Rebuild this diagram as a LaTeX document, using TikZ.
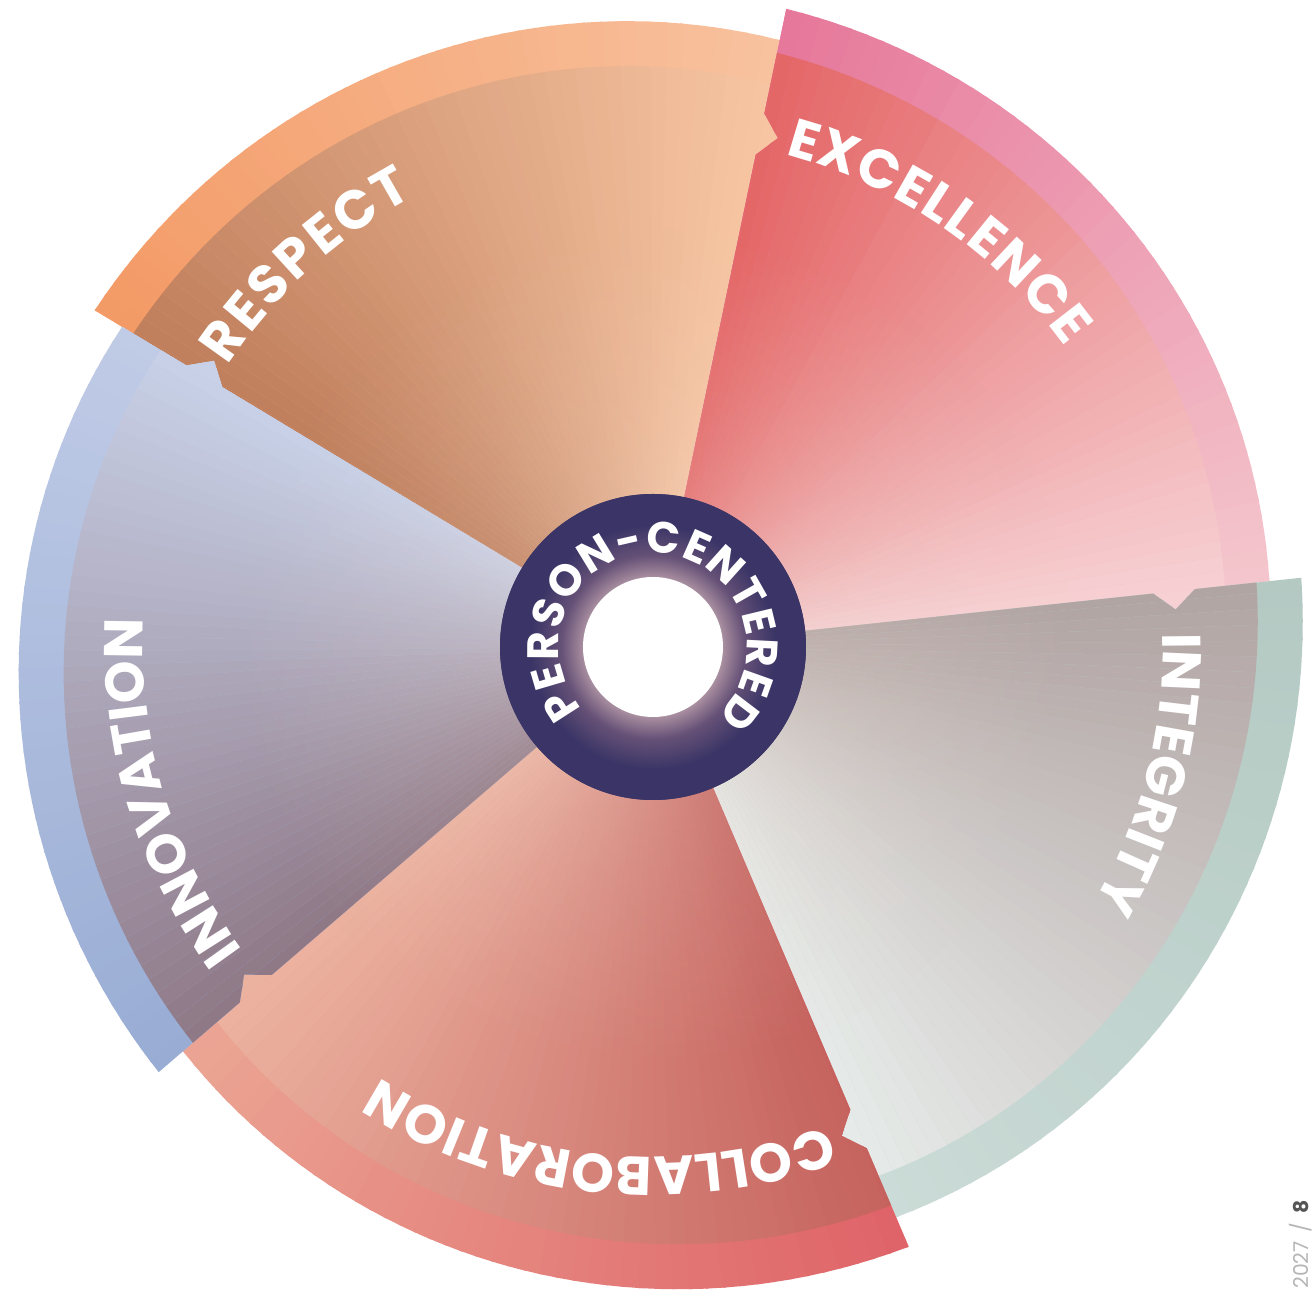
\documentclass[tikz,border=0pt]{standalone}
\usepackage{fontspec}
\usetikzlibrary{decorations.text,fadings}
\newfontfamily\valuefont{Poppins}

% wedge colours: dark = ccw side, Lt = cw side
\definecolor{respIn}{HTML}{BF7E5C}
\definecolor{respInLt}{HTML}{F7C5A2}
\definecolor{respBand}{HTML}{F39A66}
\definecolor{respBandLt}{HTML}{F8C29F}
\definecolor{exclIn}{HTML}{E46565}
\definecolor{exclInLt}{HTML}{F7D0D3}
\definecolor{exclBand}{HTML}{E6779A}
\definecolor{exclBandLt}{HTML}{F4C6CD}
\definecolor{intgIn}{HTML}{B1A4A3}
\definecolor{intgInLt}{HTML}{E6EAE8}
\definecolor{intgBand}{HTML}{B3C9C2}
\definecolor{intgBandLt}{HTML}{CBDBD7}
\definecolor{collIn}{HTML}{C5625E}
\definecolor{collInLt}{HTML}{ECB2A0}
\definecolor{collBand}{HTML}{DF6368}
\definecolor{collBandLt}{HTML}{EBA593}
\definecolor{innoIn}{HTML}{8E7886}
\definecolor{innoInLt}{HTML}{C8D1E8}
\definecolor{innoBand}{HTML}{98ACD4}
\definecolor{innoBandLt}{HTML}{C0CBE6}
\definecolor{ringNavy}{HTML}{3A3566}
\definecolor{ringMid}{HTML}{665177}
\definecolor{ringGlow}{HTML}{A98FA0}
\definecolor{hubGlow}{HTML}{EAD3C8}
\definecolor{folioGrey}{HTML}{B5B5B5}
\definecolor{folioDark}{HTML}{555555}

\pgfdeclareradialshading{ringglow}{\pgfpoint{0bp}{0bp}}{color(0bp)=(ringGlow); color(11.4bp)=(ringGlow); color(15bp)=(ringMid); color(20bp)=(ringNavy); color(25bp)=(ringNavy); color(50bp)=(ringNavy)}
\tikzfading[name=hubfade, inner color=transparent!65, outer color=transparent!100]

% one value slice: #1 = cw edge, #2 = ccw edge
\newcommand{\wedgeshape}[2]{(hub) -- (#2:503) -- ({(#2)-2}:524) -- (#2:545) -- (#2:652) -- plot[domain=#2:#1, samples=40] (\x:{620+32*(\x-(#1))/((#2)-(#1))}) -- (#1:545) -- ({(#1)-2}:524) -- (#1:503) -- cycle}

\tikzset{
    valuetext/.style = {decorate, decoration={text along path, text align={fit to path},
        text={|\valuefont\bfseries\fontsize{15.5}{15.5}\selectfont\color{white}|#1}}},
    hubtext/.style = {decorate, decoration={text along path, text align={fit to path},
        text={|\valuefont\bfseries\fontsize{12.5}{12.5}\selectfont\color{white}|#1}}},
}

\begin{document}
\begin{tikzpicture}[x=0.01cm, y=0.01cm]
\useasboundingbox (-653,-644) rectangle (659,647);
\coordinate (hub) at (0,0);

% five slices, each shaded from its cw edge to its ccw edge
\foreach \cw/\ccw/\inA/\inB/\bandA/\bandB in {
    78.2/148.9/respIn/respInLt/respBand/respBandLt,
    6.1/78.2/exclIn/exclInLt/exclBand/exclBandLt,
    -66.9/6.1/intgIn/intgInLt/intgBand/intgBandLt,
    -139.3/-66.9/collIn/collInLt/collBand/collBandLt,
    148.9/220.7/innoIn/innoInLt/innoBand/innoBandLt}{
  \begin{scope}
    \clip \wedgeshape{\cw}{\ccw};
    \foreach \i in {0,...,51}{
      \pgfmathsetmacro\ta{\cw-3+1.5*\i}
      \pgfmathsetmacro\tb{\ta+1.8}
      \pgfmathtruncatemacro\p{max(0,min(100,100*(\ta+0.75-(\cw))/((\ccw)-(\cw))))}
      \colorlet{bandcol}{\bandA!\p!\bandB}
      \colorlet{incol}{\inA!\p!\inB}
      \fill[bandcol] (hub) -- (\ta:700) -- (\tb:700) -- cycle;
      \fill[incol] (hub) -- (\ta:{575+32*(\ta-(\cw))/((\ccw)-(\cw))}) -- (\tb:{575+32*(\tb-(\cw))/((\ccw)-(\cw))}) -- cycle;
    }
  \end{scope}
}

% soft light round the hub
\fill[hubGlow, path fading=hubfade] (hub) circle[radius=420];

% centre ring
\fill[ringNavy] (hub) circle[radius=153];
\shade[shading=ringglow] (hub) circle[radius=153];
\fill[white] (hub) circle[radius=70];
\path[hubtext=PERSON-CENTERED] (221:94) arc[start angle=221, end angle=-47, radius=94];

% value labels
\path[valuetext=RESPECT] (146.5:510) arc[start angle=146.5, end angle=118, radius=510];
\path[valuetext=EXCELLENCE] (75:510) arc[start angle=75, end angle=36, radius=510];
\path[valuetext=INTEGRITY] (1.5:510) arc[start angle=1.5, end angle=-30, radius=510];
\path[valuetext=COLLABORATION] (-70:510) arc[start angle=-70, end angle=-122.5, radius=510];
\path[valuetext=INNOVATION] (216.5:510) arc[start angle=216.5, end angle=178.5, radius=510];

% page folio
\node[rotate=90, anchor=base east, inner sep=0pt, text=folioGrey,
      font=\valuefont\fontsize{5.8}{6}\selectfont] (folio) at (655,-553) {2027\hspace{2.5pt}/\hspace{2.5pt}{\bfseries\color{folioDark}8}};
\end{tikzpicture}
\end{document}
